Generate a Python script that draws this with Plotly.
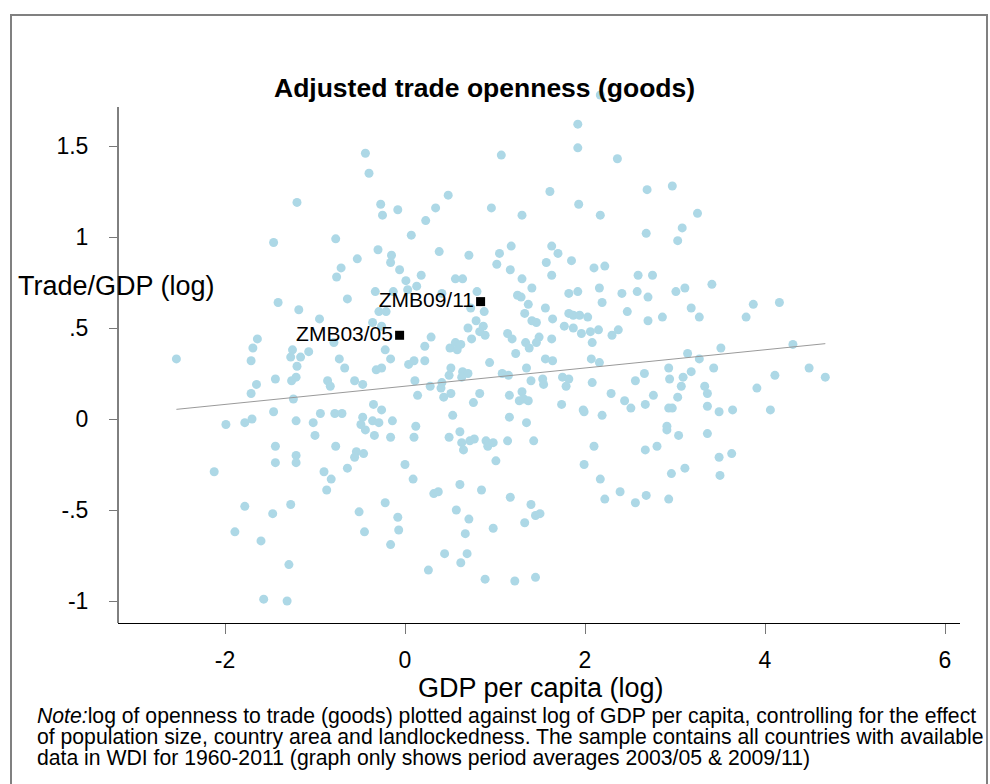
import plotly.graph_objects as go

# Country-period observations: log GDP per capita vs adjusted log trade/GDP
gdp_log = [
    -0.44, -0.40, -1.20, -0.27, -0.25, -0.08, 0.34, 0.23, 0.07, -1.46, -0.77, -0.30, -0.53, -0.15, -0.16, -0.71, -0.06, 0.38,
    2.17, 1.92, 1.92, 1.07, 2.36, 0.48, 0.96, 1.30, 1.61, 1.93, 2.17, 2.69, 2.97, 3.25, 3.08, 3.03, 2.68, 0.71, 1.05, 1.18,
    1.02, 1.17, 1.63, 1.70, 1.57, 1.85, 2.10, 2.22,
    3.41, 3.87, 4.16, 3.79, 3.27, 3.51, 4.31, 3.27, 3.43, 4.49, 4.67, 4.11, 3.91, 3.33, 3.36, 3.36, 3.49, 3.64, 4.06, 3.36,
    3.49, 3.63, 3.50,
    -0.76, 0.01, 0.18, 0.13, -0.33, -0.13, 0.03, -0.64, -1.41, -1.18, -0.29, -0.21, -0.95, -0.36, -0.26, 0.29, -1.64, -1.69,
    -1.25, -1.07, -0.22, 0.22, -2.54, -1.71, -1.27, -1.16, -0.73, -0.16, -1.20, -0.67, -0.32, -0.26, 0.04, 0.10, 0.22, -1.21,
    -1.26, -1.44, -1.65, -1.71, -0.86, -0.83, -0.56, -0.47, 0.11, 0.28, 0.14, -1.24, -0.35, -0.26, -1.46, -0.94, -0.78, -0.70,
    -1.99, -1.78, -1.70, -1.21, -1.02, -0.47, -0.49, -0.36, -0.29, -0.14, -0.44, 0.12, -1.00, -0.34, -0.16, 0.10, -0.79,
    -1.44, -1.21, -1.44, -1.21, -0.77, -0.54, -0.56, -0.46, -2.12, -0.90, -0.82, -0.64, -0.87, 0.00, 0.09, 0.32, 0.37, -1.78,
    -1.89, -1.60, -1.47, -1.27, -1.29, -1.57, -1.31, -0.51, -0.22, -0.08, -0.07, -0.45, -0.16, 0.26,
    0.49, 0.61, 0.63, 0.65, 0.72, 0.77, 0.90, 0.92, 0.98, 1.14, 1.43, 1.01, 0.61, 0.85, 1.17, 1.40, 1.45, 1.50, 1.33, 0.57,
    0.71, 0.67, 0.98, 0.44, 0.69, 0.62, 0.89, 1.22, 1.45, 2.10, 1.99, 2.17, 2.22, 2.39, 2.56, 2.68, 2.93, 2.67, 2.80, 2.96,
    3.11, 3.04, 2.91,
    0.56, 0.64, 1.30, 1.41, 1.63, 2.59, 2.75, 2.16, 2.41, 2.58, 2.70, 3.01, 3.11, 1.82, 1.92, 2.19, 0.80, 1.25, 1.29, 1.37,
    1.56, 0.41, 0.73, 0.88, 0.79, 1.33, 1.41, 1.46, 1.64, 1.82, 1.87, 1.94, 2.03, 2.47, 2.70, 2.86, 3.18, 0.70, 0.87, 0.83,
    0.89, 1.77, 1.87, 1.96, 2.06, 2.15, 2.08, 2.30, 2.37, 1.14, 1.19, 0.74, 1.49, 1.46, 1.63, 0.50, 0.56, 0.62, 0.58, 1.34,
    1.38, 1.23, 0.94, 1.56, 1.64, 2.07, 2.16, 3.14, 0.51, 0.49, 0.64, 0.70, 0.63, 1.08, 1.15, 1.35, 1.40, 1.53, 1.54, 1.75,
    1.82, 1.79, 2.08, 2.56, 2.66, 2.93, 2.94, 3.09, 3.18, 3.07, 0.41, 0.40, 0.43, 0.51, 0.83, 0.76, 1.16, 1.30, 1.27, 1.32,
    1.37, 1.74, 1.98, 1.99, 2.29, 2.44, 2.51, 2.67, 2.76, 3.03, 2.93, 2.97, 0.53, 1.16, 1.35, 2.19, 2.91,
]
trade_log = [
    1.46, 1.35, 1.19, 1.18, 1.12, 1.15, 1.16, 1.09, 1.01, 0.97, 0.99, 0.93, 0.88, 0.90, 0.86, 0.83, 0.82, 0.92,
    1.78, 1.62, 1.49, 1.45, 1.43, 1.23, 1.16, 1.12, 1.25, 1.18, 1.12, 1.26, 1.28, 1.13, 1.05, 0.98, 1.02, 0.90, 0.91, 0.95,
    0.85, 0.82, 0.95, 0.91, 0.86, 0.87, 0.83, 0.84,
    0.74, 0.63, 0.64, 0.56, 0.56, 0.39, 0.41, 0.33, 0.28, 0.28, 0.23, 0.24, 0.17, 0.18, 0.14, 0.07, 0.04, 0.05, 0.05, -0.08,
    -0.21, -0.19, -0.31,
    0.78, 0.76, 0.79, 0.73, 0.70, 0.70, 0.71, 0.66, 0.64, 0.60, 0.59, 0.59, 0.55, 0.53, 0.51, 0.45, 0.44, 0.39,
    0.38, 0.37, 0.38, 0.40, 0.33, 0.32, 0.34, 0.34, 0.33, 0.33, 0.29, 0.28, 0.27, 0.28, 0.30, 0.32, 0.32, 0.23,
    0.21, 0.22, 0.19, 0.14, 0.21, 0.18, 0.21, 0.19, 0.21, 0.18, 0.13, 0.11, 0.08, 0.05, 0.04, 0.03, 0.03, 0.03,
    -0.03, -0.02, 0.00, -0.01, -0.02, 0.01, -0.03, -0.01, -0.02, -0.01, -0.06, -0.04, -0.09, -0.09, -0.10, -0.10, 0.42,
    -0.15, -0.20, -0.24, -0.24, -0.15, -0.18, -0.21, -0.19, -0.29, -0.29, -0.33, -0.27, -0.39, -0.25, -0.33, -0.41, -0.40, -0.48,
    -0.62, -0.67, -0.52, -0.47, -0.80, -0.99, -1.00, -0.51, -0.46, -0.54, -0.61, -0.62, -0.69, -0.83,
    -0.10, -0.07, -0.13, -0.17, -0.12, -0.11, -0.12, -0.15, -0.13, -0.12, -0.12, -0.23, -0.36, -0.39, -0.43, -0.47, -0.53, -0.52, -0.57, -0.50,
    -0.55, -0.63, -0.60, -0.74, -0.74, -0.79, -0.88, -0.89, -0.87, -0.15, -0.25, -0.33, -0.44, -0.40, -0.46, -0.42, -0.44, -0.17, -0.15, -0.30,
    -0.27, -0.09, -0.06,
    0.77, 0.77, 0.77, 0.72, 0.79, 0.79, 0.79, 0.72, 0.69, 0.70, 0.67, 0.70, 0.72, 0.69, 0.70, 0.64, 0.70, 0.68, 0.67, 0.63,
    0.61, 0.69, 0.61, 0.59, 0.54, 0.58, 0.54, 0.53, 0.55, 0.58, 0.57, 0.57, 0.56, 0.59, 0.54, 0.56, 0.61, 0.50, 0.51, 0.48,
    0.46, 0.51, 0.50, 0.47, 0.48, 0.49, 0.42, 0.46, 0.49, 0.47, 0.44, 0.44, 0.45, 0.42, 0.44, 0.39, 0.42, 0.41, 0.38, 0.42,
    0.39, 0.36, 0.31, 0.33, 0.32, 0.33, 0.31, 0.36, 0.28, 0.24, 0.26, 0.25, 0.23, 0.25, 0.24, 0.28, 0.21, 0.22, 0.19, 0.23,
    0.22, 0.18, 0.20, 0.21, 0.25, 0.28, 0.22, 0.23, 0.26, 0.18, 0.20, 0.17, 0.12, 0.14, 0.14, 0.09, 0.13, 0.15, 0.10, 0.11,
    0.10, 0.08, 0.05, 0.04, 0.14, 0.10, 0.06, 0.08, 0.13, 0.12, 0.06, 0.06, 0.02, 0.01, -0.02, 0.02, -0.04,
]

# Zambia, period averages
zmb_labels = ["ZMB03/05", "ZMB09/11"]
zmb_gdp = [-0.06, 0.84]
zmb_trade = [0.46, 0.645]

# Linear fit endpoints
fit_x = [-2.54, 4.67]
fit_y = [0.053, 0.414]

x_ticks = [-2, 0, 2, 4, 6]
x_ticktext = ["-2", "0", "2", "4", "6"]
y_ticks = [-1, -0.5, 0, 0.5, 1, 1.5]
y_ticktext = ["-1", "-.5", "0", ".5", "1", "1.5"]

FONT = "Liberation Sans, Arial, sans-serif"
W, H = 990, 784
PL, PR, PT, PB = 118, 960, 80, 623   # plot area edges in pixels
AXIS_TOP = 107                        # top end of the drawn y-axis line


def px(x):
    return (x - PL) / (PR - PL)


def py(y):
    return (PB - y) / (PB - PT)


fig = go.Figure()

fig.add_trace(go.Scatter(
    x=gdp_log, y=trade_log, mode="markers",
    marker=dict(color="#ADD8E6", size=9, line=dict(width=0)),
    hoverinfo="skip", showlegend=False,
))

fig.add_trace(go.Scatter(
    x=fit_x, y=fit_y, mode="lines",
    line=dict(color="#9a9a9a", width=1),
    hoverinfo="skip", showlegend=False,
))

fig.add_trace(go.Scatter(
    x=zmb_gdp, y=zmb_trade, mode="markers+text",
    marker=dict(color="black", size=9, symbol="square"),
    text=zmb_labels, textposition="middle left",
    textfont=dict(family=FONT, size=21, color="black"),
    hoverinfo="skip", showlegend=False,
))

fig.update_xaxes(
    range=[(PL - 405) / 90, (PR - 405) / 90],
    tickmode="array", tickvals=x_ticks, ticktext=x_ticktext,
    ticks="outside", ticklen=10, tickwidth=1, tickcolor="#777777",
    showline=True, linecolor="black", linewidth=1,
    showgrid=False, zeroline=False,
    tickfont=dict(family=FONT, size=23, color="black"),
    ticklabelstandoff=6,
)
fig.update_yaxes(
    range=[(419 - PB) / 182, (419 - PT) / 182],
    tickmode="array", tickvals=y_ticks, ticktext=y_ticktext,
    ticks="outside", ticklen=8, tickwidth=1, tickcolor="#777777",
    showline=False,
    showgrid=False, zeroline=False,
    tickfont=dict(family=FONT, size=23, color="black"),
    ticklabelstandoff=16,
)

annotations = [
    dict(text="<b>Adjusted trade openness (goods)</b>", x=px(484), y=py(88),
         font=dict(family=FONT, size=26.5, color="black")),
    dict(text="Trade/GDP (log)", x=px(16), y=py(286), xanchor="left",
         font=dict(family=FONT, size=27, color="black")),
    dict(text="GDP per capita (log)", x=px(541), y=py(688),
         font=dict(family=FONT, size=27, color="black")),
    dict(text="<i>Note:</i>log of openness to trade (goods) plotted against log of GDP per capita, "
              "controlling for the effect", x=px(35), y=py(716), xanchor="left",
         font=dict(family=FONT, size=21.2, color="black")),
    dict(text="of population size, country area and landlockedness. The sample contains all countries "
              "with available", x=px(35), y=py(737), xanchor="left",
         font=dict(family=FONT, size=21.2, color="black")),
    dict(text="data in WDI for 1960-2011 (graph only shows period averages 2003/05 & 2009/11)",
         x=px(35), y=py(758), xanchor="left",
         font=dict(family=FONT, size=21.2, color="black")),
]
for a in annotations:
    a.setdefault("xanchor", "center")
    a.update(xref="paper", yref="paper", yanchor="middle", showarrow=False)

shapes = [
    # y-axis line
    dict(type="line", xref="paper", yref="paper", x0=0, x1=0, y0=0, y1=py(AXIS_TOP),
         line=dict(color="black", width=1)),
    # outer frame around the graph region (bottom edge runs off the page)
    dict(type="path", xref="paper", yref="paper",
         path=f"M {px(11)} {py(800)} L {px(11)} {py(15)} L {px(987)} {py(15)} L {px(987)} {py(800)}",
         line=dict(color="#808080", width=2)),
]

fig.update_layout(
    width=W, height=H, autosize=False,
    margin=dict(l=PL, r=W - PR, t=PT, b=H - PB, pad=0),
    plot_bgcolor="white", paper_bgcolor="white",
    font=dict(family=FONT, color="black"),
    annotations=annotations, shapes=shapes,
    showlegend=False,
)

fig.write_html("out.html")
